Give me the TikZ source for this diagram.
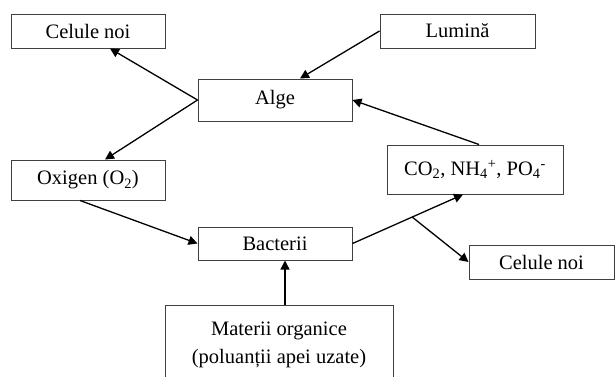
\documentclass[tikz,border=0pt]{standalone}
\usepackage{fontspec}
\setmainfont{Liberation Serif}
\usetikzlibrary{arrows.meta}
\tikzset{
->, % makes the edges directed
>={Triangle[length=9pt,width=9pt]}, % filled arrow tips
every picture/.style={x=1pt, y=-1pt}, % one unit is one pixel of the sketch, y runs down
box/.style={draw=black!75, line width=1pt, inner sep=0pt, font=\fontsize{20.5}{28}\selectfont}, % sets the properties for each box
flow/.style={line width=1.3pt, black}, % sets the properties for each connector
}

\begin{document}
\begin{tikzpicture}
\useasboundingbox (0,0) rectangle (615,376);

\node[box, minimum width=154pt, minimum height=34pt] at (88, 31) (celA) {Celule noi};
\node[box, minimum width=155pt, minimum height=34pt] at (457.5, 31) (lum) {Lumină};
\node[box, minimum width=154pt, minimum height=42pt] at (275, 100) (alge) {Alge};
\node[box, minimum width=154pt, minimum height=40pt] at (88, 180) (oxi) {Oxigen (O\textsubscript{2})};
\node[box, minimum width=176pt, minimum height=49pt] at (475, 169.5) (co) {CO\textsubscript{2}, NH\textsubscript{4}\textsuperscript{+}, PO\textsubscript{4}\textsuperscript{-}};
\node[box, minimum width=154pt, minimum height=33pt] at (275, 243.5) (bac) {Bacterii};
\node[box, minimum width=145pt, minimum height=34pt] at (541.5, 262) (celB) {Celule noi};
\node[box, minimum width=228pt, minimum height=80pt, align=center] at (279, 345) (mat) {Materii organice\\(poluanții apei uzate)};

\path (bac.east) -- ([xshift=-12pt]co.south) coordinate[pos=0.54] (split);

\draw[flow] (alge.west) -- ([xshift=22pt]celA.south);
\draw[flow] (alge.west) -- ([xshift=17pt]oxi.north);
\draw[flow] (lum.west) -- ([xshift=25pt]alge.north);
\draw[flow] ([xshift=4pt]co.north) -- (alge.east);
\draw[flow] ([xshift=-8pt]oxi.south) -- (bac.west);
\draw[flow] (bac.east) -- ([xshift=-12pt]co.south);
\draw[flow] (split) -- (celB.west);
\draw[flow] ([xshift=10pt]bac.south |- mat.north) -- ([xshift=10pt]bac.south);

\end{tikzpicture}
\end{document}
